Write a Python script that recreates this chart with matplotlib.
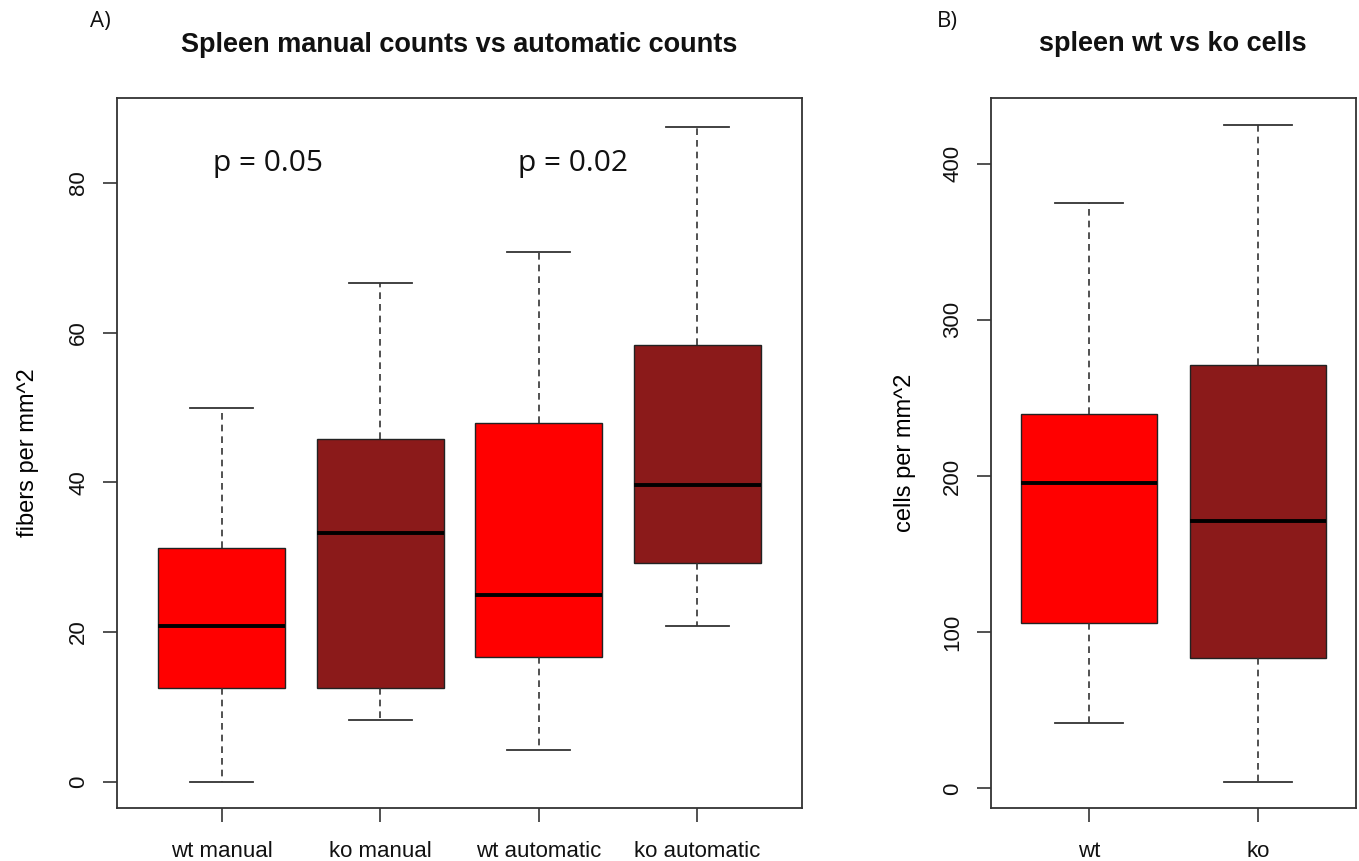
import matplotlib
matplotlib.use("Agg")
import matplotlib.pyplot as plt

# Panel A data (five-number summaries)
cats_a = ["wt manual", "ko manual", "wt automatic", "ko automatic"]
low_a = [0.0, 8.3, 4.2, 20.8]
q1_a = [12.5, 12.5, 16.7, 29.2]
med_a = [20.8, 33.3, 25.0, 39.6]
q3_a = [31.3, 45.8, 47.9, 58.3]
high_a = [50.0, 66.7, 70.8, 87.5]
colors_a = ["#FF0000", "#8B1A1A", "#FF0000", "#8B1A1A"]
pvals = ["p = 0.05", "p = 0.02"]

# Panel B data
cats_b = ["wt", "ko"]
low_b = [42, 4.2]
q1_b = [106, 83.3]
med_b = [195.3, 171]
q3_b = [239.5, 270.8]
high_b = [375, 425]
colors_b = ["#FF0000", "#8B1A1A"]

plt.rcParams['font.family'] = ['Liberation Sans', 'DejaVu Sans']

fig = plt.figure(figsize=(13.59, 8.61), dpi=100)
axA = fig.add_axes([117/1359, 53/861, 685/1359, 710/861])
axB = fig.add_axes([991/1359, 53/861, 365/1359, 710/861])

TICK_FS = 16


def draw(ax, cats, lo, q1, med, q3, hi, colors):
    stats = []
    for i in range(len(cats)):
        stats.append(dict(whislo=lo[i], q1=q1[i], med=med[i], q3=q3[i],
                          whishi=hi[i], fliers=[], label=cats[i]))
    pos = list(range(1, len(cats) + 1))
    bp = ax.bxp(stats, positions=pos, widths=0.8, patch_artist=True,
                showfliers=False,
                boxprops=dict(linewidth=1.0, edgecolor="#222222"),
                medianprops=dict(color="black", linewidth=2.8, solid_capstyle="butt"),
                whiskerprops=dict(color="#333333", linewidth=1.2, linestyle=(0, (4, 3))),
                capprops=dict(color="#333333", linewidth=1.3),
                capwidths=0.4)
    for patch, c in zip(bp["boxes"], colors):
        patch.set_facecolor(c)
    n = len(cats)
    span = n
    ax.set_xlim(0.5 - 0.04 * span, n + 0.5 + 0.04 * span)
    for s in ax.spines.values():
        s.set_linewidth(1.3)
        s.set_color("#333333")
    ax.tick_params(axis="both", length=10, width=1.2, color="#333333",
                   labelsize=TICK_FS, labelcolor="#111111")
    ax.tick_params(axis="x", pad=14)
    ax.tick_params(axis="y", pad=10)


draw(axA, cats_a, low_a, q1_a, med_a, q3_a, high_a, colors_a)
draw(axB, cats_b, low_b, q1_b, med_b, q3_b, high_b, colors_b)

axA.set_ylim(-3.5, 91.35)
axA.set_yticks([0, 20, 40, 60, 80])
axA.set_yticklabels(["0", "20", "40", "60", "80"], rotation=90, va="center")
axB.set_ylim(-12.6, 442)
axB.set_yticks([0, 100, 200, 300, 400])
axB.set_yticklabels(["0", "100", "200", "300", "400"], rotation=90, va="center")

axA.set_ylabel("fibers per mm^2", fontsize=17, labelpad=21)
axB.set_ylabel("cells per mm^2", fontsize=17, labelpad=19)

axA.text(1.29, 82.6, pvals[0], fontsize=21.5, ha="center", va="center",
         family=["Open Sans", "DejaVu Sans"], color="#111111")
axA.text(3.215, 82.6, pvals[1], fontsize=21.5, ha="center", va="center",
         family=["Open Sans", "DejaVu Sans"], color="#111111")

fig.text(459/1359, 1 - 45/861, "Spleen manual counts vs automatic counts",
         fontsize=19.5, fontweight="bold", ha="center", va="center", color="#111111")
fig.text(1173/1359, 1 - 44/861, "spleen wt vs ko cells",
         fontsize=19.5, fontweight="bold", ha="center", va="center", color="#111111")
fig.text(100/1359, 1 - 22/861, "A)", fontsize=16, ha="center", va="center",
         family=["Open Sans", "DejaVu Sans"], color="#111111")
fig.text(947/1359, 1 - 22/861, "B)", fontsize=16, ha="center", va="center",
         family=["Open Sans", "DejaVu Sans"], color="#111111")

fig.savefig("out.png", dpi=100)
